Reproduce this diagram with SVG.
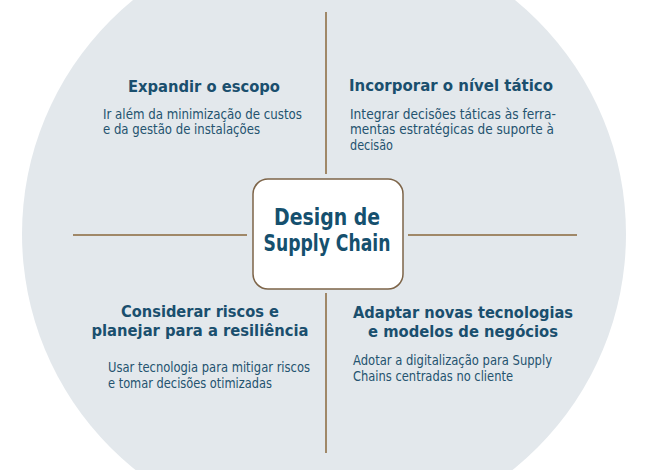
<svg xmlns="http://www.w3.org/2000/svg" width="650" height="470" viewBox="0 0 650 470">
<style>
.h{font-family:"DejaVu Sans Condensed","DejaVu Sans",sans-serif;font-weight:bold;font-size:16.5px;fill:#1a4f6e}
.b{font-family:"DejaVu Sans Condensed","DejaVu Sans",sans-serif;font-size:13.5px;fill:#24536f}
.t{font-family:"DejaVu Sans Condensed","DejaVu Sans",sans-serif;font-weight:bold;font-size:23px;fill:#15506e}
.ln{stroke:#a08868;stroke-width:2;fill:none}
</style>
<circle cx="324" cy="234" r="302" fill="#e3e8ec"/>
<g id="connectors">
<line class="ln" x1="326" y1="12" x2="326" y2="174"/>
<line class="ln" x1="326" y1="293" x2="326" y2="453"/>
<line class="ln" x1="73" y1="235" x2="247" y2="235"/>
<line class="ln" x1="408" y1="235" x2="577" y2="235"/>
</g>
<g id="center">
<rect x="253" y="179" width="150" height="110" rx="15" fill="#ffffff" stroke="#7d6448" stroke-width="1.5"/>
<text class="t" x="327" y="225" text-anchor="middle" textLength="106" lengthAdjust="spacingAndGlyphs">Design de</text>
<text class="t" x="327" y="251" text-anchor="middle" textLength="127" lengthAdjust="spacingAndGlyphs">Supply Chain</text>
</g>
<g id="q1">
<text class="h" x="128" y="92" textLength="152" lengthAdjust="spacingAndGlyphs">Expandir o escopo</text>
<text class="b" x="103" y="118.5" textLength="199" lengthAdjust="spacingAndGlyphs">Ir além da minimização de custos</text>
<text class="b" x="103" y="134" textLength="157" lengthAdjust="spacingAndGlyphs">e da gestão de instalações</text>
</g>
<g id="q2">
<text class="h" x="349" y="91" textLength="204" lengthAdjust="spacingAndGlyphs">Incorporar o nível tático</text>
<text class="b" x="350" y="118.5" textLength="206" lengthAdjust="spacingAndGlyphs">Integrar decisões táticas às ferra-</text>
<text class="b" x="350" y="134" textLength="204" lengthAdjust="spacingAndGlyphs">mentas estratégicas de suporte à</text>
<text class="b" x="350" y="149.5" textLength="43" lengthAdjust="spacingAndGlyphs">decisão</text>
</g>
<g id="q3">
<text class="h" x="200" y="317" text-anchor="middle" textLength="158" lengthAdjust="spacingAndGlyphs">Considerar riscos e</text>
<text class="h" x="200" y="336" text-anchor="middle" textLength="217" lengthAdjust="spacingAndGlyphs">planejar para a resiliência</text>
<text class="b" x="108" y="372" textLength="202" lengthAdjust="spacingAndGlyphs">Usar tecnologia para mitigar riscos</text>
<text class="b" x="108" y="387.5" textLength="164" lengthAdjust="spacingAndGlyphs">e tomar decisões otimizadas</text>
</g>
<g id="q4">
<text class="h" x="463" y="318" text-anchor="middle" textLength="220" lengthAdjust="spacingAndGlyphs">Adaptar novas tecnologias</text>
<text class="h" x="463" y="337" text-anchor="middle" textLength="190" lengthAdjust="spacingAndGlyphs">e modelos de negócios</text>
<text class="b" x="353" y="365" textLength="199" lengthAdjust="spacingAndGlyphs">Adotar a digitalização para Supply</text>
<text class="b" x="353" y="380.5" textLength="160" lengthAdjust="spacingAndGlyphs">Chains centradas no cliente</text>
</g>
</svg>
